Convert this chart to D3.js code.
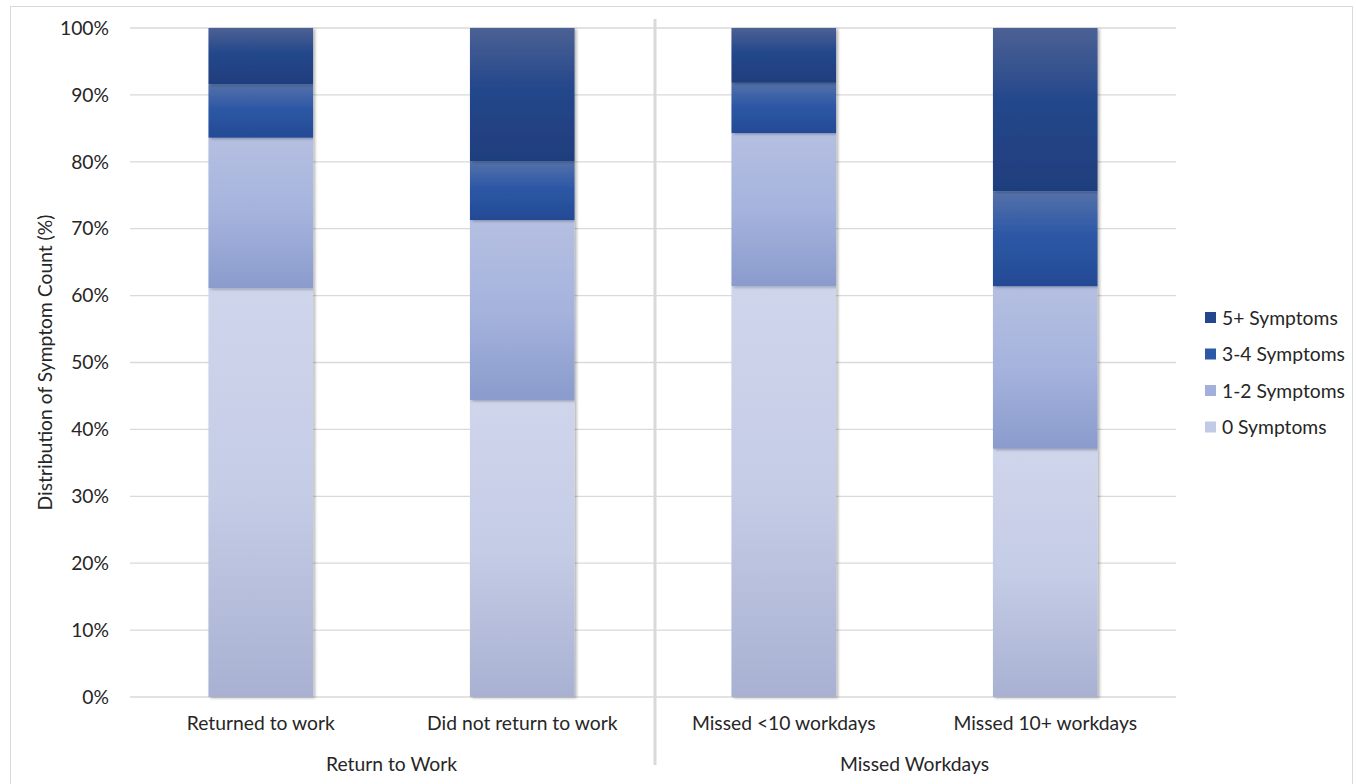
<!DOCTYPE html>
<html>
<head>
<meta charset="utf-8">
<script src="https://cdn.jsdelivr.net/npm/d3@7"></script>
<style>
  body { margin: 0; background: #fff; }
  svg { font-family: "Lato", "Open Sans", sans-serif; }
</style>
</head>
<body>
<svg width="1356" height="784"></svg>
<script>
// Data (percent of each bar)
const categories = ["Returned to work", "Did not return to work", "Missed <10 workdays", "Missed 10+ workdays"];
const groups = ["Return to Work", "Missed Workdays"];
const seriesNames = ["0 Symptoms", "1-2 Symptoms", "3-4 Symptoms", "5+ Symptoms"];
const zeroSym = [61.1, 44.4, 61.4, 37.1];
const oneTwo = [22.5, 26.9, 22.9, 24.3];
const threeFour = [8.0, 8.8, 7.5, 14.2];
const fivePlus = [8.4, 19.9, 8.2, 24.4];
const yTicks = [0, 10, 20, 30, 40, 50, 60, 70, 80, 90, 100];

const margin = {top: 28, right: 180, bottom: 87, left: 130},
    width = 1356 - margin.left - margin.right,
    height = 784 - margin.top - margin.bottom;

const fs = 19.3;

const svg = d3.select("svg");

// outer chart border
svg.append("rect")
    .attr("x", 10.5).attr("y", 6.5)
    .attr("width", 1342).attr("height", 790)
    .attr("fill", "none")
    .attr("stroke", "#d9d9d9");

const g = svg.append("g")
    .attr("transform", `translate(${margin.left},${margin.top})`);

// gradients (Excel style fills)
const defs = svg.append("defs");
const gradStops = [
  [["0%", "#cfd5eb"], ["50%", "#c5cce6"], ["100%", "#a8b1d2"]],
  [["0%", "#b5bfe1"], ["50%", "#a5b3dd"], ["100%", "#8a9bcc"]],
  [["0%", "#5571a9"], ["45%", "#2d58a6"], ["100%", "#244a94"]],
  [["0%", "#4c6194"], ["45%", "#24478b"], ["100%", "#1f3e7d"]]
];
gradStops.forEach((stops, i) => {
  const lg = defs.append("linearGradient")
      .attr("id", "grad" + i)
      .attr("x1", 0).attr("y1", 0).attr("x2", 0).attr("y2", 1);
  stops.forEach(s => lg.append("stop").attr("offset", s[0]).attr("stop-color", s[1]));
});
const legendColors = ["#c3cae5", "#a3b0db", "#2d58a6", "#24478b"];

const filter = defs.append("filter").attr("id", "shadow")
    .attr("x", "-10%").attr("y", "-10%").attr("width", "130%").attr("height", "130%");
filter.append("feDropShadow")
    .attr("dx", 2).attr("dy", 1).attr("stdDeviation", 1.5)
    .attr("flood-color", "#000").attr("flood-opacity", 0.3);

// scales
const x = d3.scaleBand()
    .domain(categories)
    .range([0, width])
    .paddingInner(0.6)
    .paddingOuter(0.3);

const y = d3.scaleLinear()
    .domain([0, 100])
    .range([height, 0]);

// gridlines
g.append("g")
  .selectAll("line")
  .data(yTicks)
  .enter()
  .append("line")
    .attr("x1", 0).attr("x2", width)
    .attr("y1", d => y(d)).attr("y2", d => y(d))
    .attr("stroke", "#d9d9d9")
    .attr("stroke-width", 1.3);

// y axis labels
g.append("g")
  .selectAll("text")
  .data(yTicks)
  .enter()
  .append("text")
    .attr("x", -21)
    .attr("y", d => y(d))
    .attr("dy", "0.35em")
    .attr("text-anchor", "end")
    .attr("font-size", fs)
    .attr("fill", "#262626")
    .text(d => d + "%");

// stack data
const table = categories.map((c, i) => ({
  cat: c,
  "0 Symptoms": zeroSym[i],
  "1-2 Symptoms": oneTwo[i],
  "3-4 Symptoms": threeFour[i],
  "5+ Symptoms": fivePlus[i]
}));
const stacked = d3.stack().keys(seriesNames)(table);

// bars
g.append("g")
  .selectAll("g")
  .data(stacked)
  .enter()
  .append("g")
    .attr("fill", (d, i) => `url(#grad${i})`)
  .selectAll("rect")
  .data(d => d)
  .enter()
  .append("rect")
    .attr("x", d => x(d.data.cat))
    .attr("y", d => y(d[1]))
    .attr("width", x.bandwidth())
    .attr("height", d => y(d[0]) - y(d[1]))
    .attr("filter", "url(#shadow)");

// category labels
g.append("g")
  .selectAll("text")
  .data(categories)
  .enter()
  .append("text")
    .attr("x", d => x(d) + x.bandwidth() / 2)
    .attr("y", height + 33)
    .attr("text-anchor", "middle")
    .attr("font-size", fs)
    .attr("fill", "#262626")
    .text(d => d);

// group labels and separator
groups.forEach((grp, i) => {
  g.append("text")
      .attr("x", width / 4 + i * width / 2)
      .attr("y", height + 74)
      .attr("text-anchor", "middle")
      .attr("font-size", fs)
      .attr("fill", "#262626")
      .text(grp);
});
g.append("line")
    .attr("x1", width / 2 + 2).attr("x2", width / 2 + 2)
    .attr("y1", -9).attr("y2", height + 68)
    .attr("stroke", "#d9d9d9")
    .attr("stroke-width", 3);

// y axis title
g.append("text")
    .attr("transform", "rotate(-90)")
    .attr("x", -height / 2)
    .attr("y", -78)
    .attr("text-anchor", "middle")
    .attr("font-size", fs)
    .attr("fill", "#262626")
    .text("Distribution of Symptom Count (%)");

// legend (top to bottom: 5+ ... 0)
const legend = svg.append("g")
    .attr("transform", "translate(1205,318)");
const legendOrder = seriesNames.slice().reverse();
legendOrder.forEach((name, i) => {
  const row = legend.append("g").attr("transform", `translate(0,${i * 36.5})`);
  row.append("rect")
      .attr("x", 0).attr("y", -6)
      .attr("width", 11).attr("height", 11)
      .attr("fill", legendColors[seriesNames.indexOf(name)]);
  row.append("text")
      .attr("x", 17)
      .attr("y", 0)
      .attr("dy", "0.35em")
      .attr("font-size", fs)
      .attr("fill", "#262626")
      .text(name);
});
</script>
</body>
</html>
